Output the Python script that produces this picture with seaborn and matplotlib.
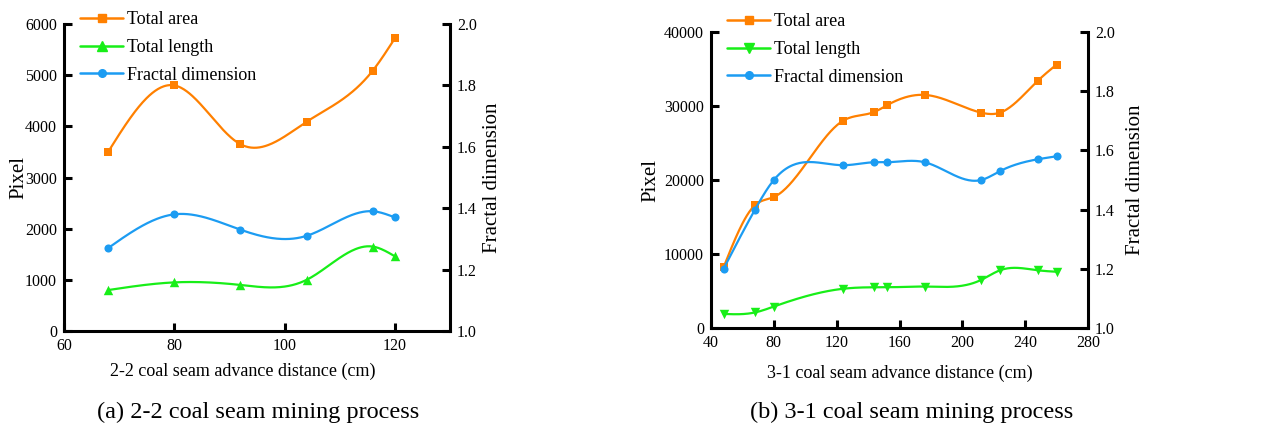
import numpy as np
import pandas as pd
import seaborn as sns
import matplotlib
matplotlib.use("Agg")
import matplotlib.pyplot as plt
from matplotlib.lines import Line2D

# ======================================
# Data
# ======================================

dist_22 = [68, 80, 92, 104, 116, 120]
area_22 = [3500, 4800, 3650, 4090, 5090, 5720]
length_22 = [800, 950, 900, 1000, 1650, 1460]
fractal_22 = [1.27, 1.38, 1.33, 1.31, 1.39, 1.37]

dist_31 = [48, 68, 80, 124, 144, 152, 176, 212, 224, 248, 260]
area_31 = [8200, 16600, 17700, 28000, 29200, 30100, 31500, 29100, 29100, 33400, 35600]
length_31 = [1900, 2100, 2900, 5300, 5500, 5500, 5600, 6500, 7800, 7800, 7600]
fractal_31 = [1.20, 1.40, 1.50, 1.55, 1.56, 1.56, 1.56, 1.50, 1.53, 1.57, 1.58]

legend_labels = ["Total area", "Total length", "Fractal dimension"]
captions = ["(a) 2-2 coal seam mining process", "(b) 3-1 coal seam mining process"]
xlabels = ["2-2 coal seam advance distance (cm)", "3-1 coal seam advance distance (cm)"]

c_area = "#FF8000"
c_len = "#18EE18"
c_frac = "#1C9CF2"


def spline(x, y, n=300):
    # natural cubic spline, just for drawing the smooth connecting line
    x = np.asarray(x, float)
    y = np.asarray(y, float)
    k = len(x)
    h = np.diff(x)
    A = np.zeros((k, k))
    b = np.zeros(k)
    A[0, 0] = 1
    A[-1, -1] = 1
    for i in range(1, k - 1):
        A[i, i - 1] = h[i - 1]
        A[i, i] = 2 * (h[i - 1] + h[i])
        A[i, i + 1] = h[i]
        b[i] = 6 * ((y[i + 1] - y[i]) / h[i] - (y[i] - y[i - 1]) / h[i - 1])
    M = np.linalg.solve(A, b)
    xs = np.linspace(x[0], x[-1], n)
    j = np.clip(np.searchsorted(x, xs) - 1, 0, k - 2)
    t0 = x[j + 1] - xs
    t1 = xs - x[j]
    ys = (M[j] * t0 ** 3 + M[j + 1] * t1 ** 3) / (6 * h[j]) \
        + (y[j] / h[j] - M[j] * h[j] / 6) * t0 \
        + (y[j + 1] / h[j] - M[j + 1] * h[j] / 6) * t1
    return xs, ys


sns.set_style("ticks")
plt.rcParams["font.family"] = ["Liberation Serif", "DejaVu Serif"]
plt.rcParams.update({
    "text.color": "black",
    "axes.labelcolor": "black",
    "axes.edgecolor": "black",
    "xtick.color": "black",
    "ytick.color": "black",
})

fig = plt.figure(figsize=(12.65, 4.29), dpi=100)
W, H = 1265, 429


def series(ax, x, y, color, marker):
    xs, ys = spline(x, y)
    sns.lineplot(x=xs, y=ys, ax=ax, color=color, lw=1.6, sort=False)
    size = 46 if marker in ("^", "v") else 34
    sns.scatterplot(x=x, y=y, ax=ax, color=color, marker=marker, s=size,
                    edgecolor=color, linewidth=0, zorder=5)


def panel(rect, x, area, length, fractal, len_marker, xlim, xticks, ylim, yticks,
          xlabel, xlabel_pos, ylabel_x, caption, cap_xy, leg_xy):
    ax = fig.add_axes(rect)
    ax2 = ax.twinx()
    series(ax, x, area, c_area, "s")
    series(ax, x, length, c_len, len_marker)
    series(ax2, x, fractal, c_frac, "o")

    ax.set_xlim(*xlim)
    ax.set_xticks(xticks)
    ax.set_ylim(*ylim)
    ax.set_yticks(yticks)
    ax2.set_ylim(1.0, 2.0)
    ax2.set_yticks(np.arange(1.0, 2.01, 0.2))
    ax2.set_yticklabels([f"{v:.1f}" for v in np.arange(1.0, 2.01, 0.2)])

    ax.set_xlabel(xlabel, fontsize=13)
    ax.set_ylabel("Pixel", fontsize=15)
    ax2.set_ylabel("Fractal dimension", fontsize=15)
    # label anchors in figure pixels
    x0, w0 = rect[0] * W, rect[2] * W
    h0 = rect[3] * H
    ax.xaxis.set_label_coords((xlabel_pos[0] - x0) / w0, -xlabel_pos[1] / h0)
    ax.yaxis.set_label_coords((ylabel_x[0] - x0) / w0, 0.5)
    ax2.yaxis.set_label_coords((ylabel_x[1] - x0) / w0, 0.5)

    for a in (ax, ax2):
        a.spines["top"].set_visible(False)
        for s in a.spines.values():
            s.set_linewidth(2.2)
        a.tick_params(direction="in", length=6, width=2.2, labelsize=11.5, pad=5)
    ax.spines["right"].set_visible(False)
    ax2.spines["left"].set_visible(False)
    ax2.spines["bottom"].set_visible(False)

    fig.text(cap_xy[0] / W, 1 - cap_xy[1] / H, caption, fontsize=17.5,
             ha="center", va="center")

    handles = [
        Line2D([], [], color=c_area, marker="s", lw=1.8, ms=5.5),
        Line2D([], [], color=c_len, marker=len_marker, lw=1.8, ms=6.5),
        Line2D([], [], color=c_frac, marker="o", lw=1.8, ms=5.5),
    ]
    fig.legend(handles, legend_labels, loc="upper left",
               bbox_to_anchor=(leg_xy[0] / W, 1 - leg_xy[1] / H),
               frameon=False, fontsize=13, handlelength=2.4, handletextpad=0.2,
               borderpad=0, borderaxespad=0, labelspacing=0.6)
    return ax, ax2


panel([64 / W, 1 - 331 / H, 386 / W, 307 / H], dist_22, area_22, length_22, fractal_22, "^",
      (60, 130), [60, 80, 100, 120], (0, 6000), np.arange(0, 6001, 1000),
      xlabels[0], (243, 32), (28, 483), captions[0], (258, 412), (80, 11))

panel([711 / W, 1 - 328 / H, 377 / W, 296 / H], dist_31, area_31, length_31, fractal_31, "v",
      (40, 280), np.arange(40, 281, 40), (0, 40000), np.arange(0, 40001, 10000),
      xlabels[1], (900, 37), (660, 1126), captions[1], (912, 412), (727, 13))

plt.savefig("out.png", dpi=100)
